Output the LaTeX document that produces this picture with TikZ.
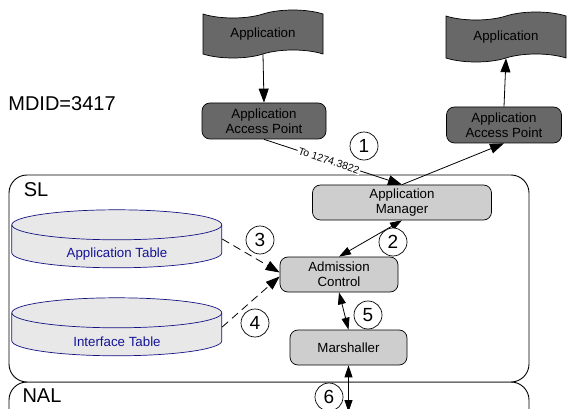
\documentclass[tikz,border=0pt]{standalone}
\usepackage{fontspec}
\setmainfont{Liberation Sans}
\usetikzlibrary{shapes.geometric,shapes.symbols,arrows.meta}
\definecolor{darkbox}{RGB}{104,104,104}
\definecolor{lightbox}{RGB}{206,206,206}
\definecolor{tablefill}{RGB}{232,232,232}
\definecolor{navyline}{RGB}{20,20,130}
\definecolor{navytext}{RGB}{20,20,150}
\newcommand{\lblfont}{\fontsize{13.3}{15}\selectfont}
\newcommand{\bigfont}{\fontsize{20}{22}\selectfont}
\newcommand{\numfont}{\fontsize{19}{19}\selectfont}
\tikzstyle{arrow} = [line width=0.8pt,-{Triangle[length=14pt,width=10pt]}]
\tikzstyle{twoway} = [line width=0.8pt,{Triangle[length=12pt,width=8pt]}-{Triangle[length=12pt,width=8pt]}]

\begin{document}
\begin{tikzpicture}[x=1pt,y=-1pt,
cloudapp/.style={tape, draw, line width=0.7pt, fill=darkbox, minimum width=120pt, minimum height=48pt, tape bend height=8pt, font=\lblfont},
darknode/.style={rectangle, rounded corners=8pt, draw, line width=0.7pt, fill=darkbox, align=center, font=\lblfont, inner sep=1pt},
lightnode/.style={rectangle, rounded corners=8pt, draw, line width=0.7pt, fill=lightbox, align=center, font=\lblfont, inner sep=1pt, minimum height=35pt},
numnode/.style={circle, draw, line width=0.7pt, fill=white, minimum size=28pt, inner sep=0pt, font=\numfont},
tablebox/.style={rectangle, minimum width=210pt, minimum height=58pt, inner sep=0pt},
tableside/.style={draw=navyline, line width=0.7pt, fill=tablefill},
tabletext/.style={text=navytext, font=\lblfont, yshift=-15pt},
layerbox/.style={rectangle, rounded corners=18pt, draw, line width=0.9pt, minimum width=520pt},]
\useasboundingbox (0,0) rectangle (568,409);
\clip (0,0) rectangle (568,409);

%Layers
\node[layerbox, minimum height=70pt]  (nal)  at (269,417) {};
\node[layerbox, minimum height=207pt, fill=white] (sl) at (269,278.5) {};
\node[font=\bigfont] (sllabel)  at (36,190) {SL};
\node[font=\bigfont] (nallabel) at (42,396) {NAL};
\node[font=\bigfont] (mdid)     at (62,104) {MDID=3417};

%Tables
\foreach \tab/\ypos in {tabA/239, tabI/327}{
  \node[tablebox] (\tab) at (117,\ypos) {};
  \path[tableside] (\tab.north west) ++(0,15) -- ++(0,28)
    arc[start angle=180, end angle=0, x radius=105, y radius=15] -- ++(0,-28)
    arc[start angle=0, end angle=-180, x radius=105, y radius=15] -- cycle;
  \draw[navyline, line width=0.7pt] (\tab.north west) ++(0,15)
    arc[start angle=180, end angle=0, x radius=105, y radius=15];
}
\node[tabletext] (tabAtext) at (tabA) {Application Table};
\node[tabletext] (tabItext) at (tabI) {Interface Table};

%Nodes
\node[cloudapp]                          (appL) at (263,34)    {Application};
\node[cloudapp, minimum height=50pt]     (appR) at (506,37)    {Application};
\node[darknode, minimum width=124pt, minimum height=36pt] (aapL) at (264,121) {Application\\Access Point};
\node[darknode, minimum width=115pt, minimum height=36pt] (aapR) at (504,125) {Application\\Access Point};
\node[lightnode, minimum width=179pt]    (am)   at (402,202.5) {Application\\Manager};
\node[lightnode, minimum width=118pt]    (ac)   at (339,274.5) {Admission\\Control};
\node[lightnode, minimum width=117pt]    (mar)  at (348.5,347.5) {Marshaller};
\coordinate (nalend) at (348.5,412);

%Lines
\draw[arrow] (appL.south) -- (aapL.north);
\draw[arrow] (aapR.north) -- (appR.south);
\draw[arrow] (aapL.south) -- node[pos=0.47, sloped, fill=white, inner sep=1pt, font=\fontsize{10.5}{12}\selectfont] {To 1274.3822} (am.north);
\draw[arrow] (am.north) -- (aapR.south);
\draw[twoway] (ac.north) -- (am.south);
\draw[twoway] (ac.south) -- (mar.north);
\draw[twoway] (mar.south) -- (nalend);
\draw[arrow, dash pattern=on 8pt off 5pt] (tabA.east) -- ([yshift=2pt]ac.west);
\draw[arrow, dash pattern=on 8pt off 5pt] (tabI.east) -- ([yshift=-2pt]ac.west);

%Steps
\node[numnode] (n1) at (364,146) {1};
\node[numnode] (n2) at (393,242) {2};
\node[numnode] (n3) at (260,240) {3};
\node[numnode] (n4) at (255,323) {4};
\node[numnode] (n5) at (368,315) {5};
\node[numnode] (n6) at (329,397) {6};
\end{tikzpicture}
\end{document}
